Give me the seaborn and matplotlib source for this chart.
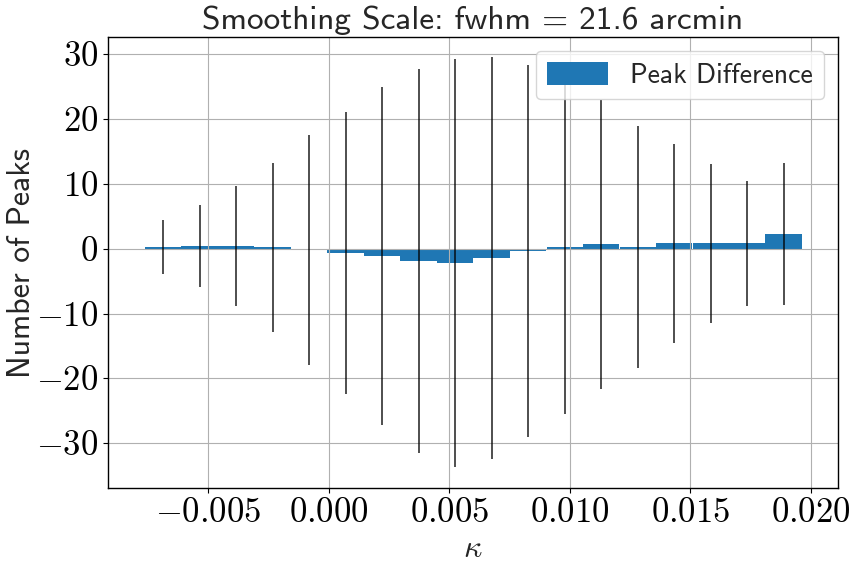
import numpy as np
import pandas as pd
import matplotlib
matplotlib.use("Agg")
import matplotlib.pyplot as plt
from matplotlib.ticker import FuncFormatter, MultipleLocator
import seaborn as sns

# ---- data ----
kappa_centers = [-0.00687, -0.00536, -0.00384, -0.00233, -0.00081, 0.00070,
                 0.00222, 0.00373, 0.00525, 0.00676, 0.00827, 0.00979,
                 0.01130, 0.01282, 0.01433, 0.01585, 0.01736, 0.01887]
peak_difference = [0.2, 0.35, 0.35, 0.2, -0.2, -0.68, -1.13, -1.9, -2.2,
                   -1.45, -0.4, 0.2, 0.65, 0.2, 0.8, 0.8, 0.8, 2.2]
peak_error = [4.15, 6.3, 9.2, 13.0, 17.65, 21.7, 25.95, 29.55, 31.35,
              30.9, 28.6, 25.6, 22.25, 18.65, 15.35, 12.2, 9.6, 10.9]

title_text = "Smoothing Scale: fwhm = 21.6 arcmin"
legend_label = "Peak Difference"
x_label = r"$\kappa$"
y_label = "Number of Peaks"

df = pd.DataFrame({"kappa": kappa_centers, "diff": peak_difference,
                   "err": peak_error})

sns.set_style("ticks")
plt.rcParams["font.family"] = ["cmss10", "DejaVu Sans"]
plt.rcParams["mathtext.fontset"] = "cm"
plt.rcParams["axes.unicode_minus"] = True

fig = plt.figure(figsize=(8.51, 5.68), dpi=100)
ax = fig.add_axes([108 / 851, 1 - 488 / 568, (838 - 108) / 851, (488 - 37) / 568])

sns.barplot(data=df, x="kappa", y="diff", native_scale=True, width=1.0,
            color="#1f77b4", saturation=1.0, linewidth=0, errorbar=None,
            ax=ax, label=legend_label)
ax.errorbar(df["kappa"], df["diff"], yerr=df["err"], fmt="none",
            ecolor="black", alpha=0.75, elinewidth=1.3, capsize=0)

ax.set_axisbelow("line")
ax.grid(True, color="#b0b0b0", linewidth=0.8)
for s in ax.spines.values():
    s.set_color("black")
    s.set_linewidth(1.0)
ax.tick_params(axis="both", colors="black", length=3.5, width=0.8,
               labelsize=25)

ax.set_xlim(-0.00916, 0.02113)
ax.set_ylim(-36.85, 32.55)
ax.xaxis.set_major_locator(MultipleLocator(0.005))
ax.yaxis.set_major_locator(MultipleLocator(10))
ax.xaxis.set_major_formatter(FuncFormatter(lambda v, p: f"${v:.3f}$"))
ax.yaxis.set_major_formatter(FuncFormatter(lambda v, p: f"${v:.0f}$"))

ax.set_title(title_text, fontsize=24, pad=6)
ax.set_xlabel(x_label, fontsize=23)
ax.set_ylabel(y_label, fontsize=23, labelpad=0)

ax.legend([ax.patches[0]], [legend_label], loc="upper right", fontsize=20,
          handlelength=2.2, handleheight=0.9, framealpha=0.8,
          edgecolor="#cccccc", fancybox=True)

fig.savefig("out.png", dpi=100)
